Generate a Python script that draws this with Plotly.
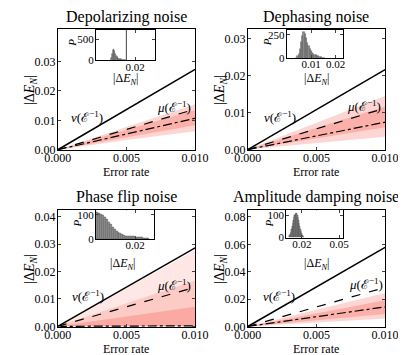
import plotly.graph_objects as go

W, H = 406, 355
FONT = 'Liberation Serif, Times New Roman, serif'
INK = 'black'
HIST_FILL = '#8c8c8c'
HIST_EDGE = '#5a5a5a'

# ---------------- data ----------------
titles = ['Depolarizing noise', 'Dephasing noise', 'Phase flip noise', 'Amplitude damping noise']

error_rate = [0.0, 0.01]
nu_line = [[0.0, 0.0273], [0.0, 0.0216], [0.0, 0.0287], [0.0, 0.0577]]
mu_line = [[0.0, 0.0138], [0.0, 0.0112], [0.0, 0.0143], [0.0, 0.0285]]
dd_line = [[0.0, 0.0107], [0.0, 0.0074], [0.0, 0.0002], [0.0, 0.0143]]

# scatter cloud envelopes (|dE_N| vs error rate)
cloud_x = [0.0, 0.0025, 0.005, 0.0075, 0.01]
depol_lo = [0.0, 0.0016, 0.0033, 0.0049, 0.0063]
depol_hi = [0.0, 0.0039, 0.0077, 0.0116, 0.0155]
depol_core_lo = [0.0, 0.0021, 0.0042, 0.0063, 0.0083]
depol_core_hi = [0.0, 0.0034, 0.0068, 0.0101, 0.0135]

deph_lo = [0.0, 0.0009, 0.0018, 0.0027, 0.0035]
deph_hi = [0.0, 0.0036, 0.0072, 0.0108, 0.0145]
deph_core_lo = [0.0, 0.0015, 0.0030, 0.0045, 0.0060]
deph_core_hi = [0.0, 0.0029, 0.0058, 0.0087, 0.0116]

flip_lo = [0.0, 0.0, 0.0, 0.0, 0.0]
flip_hi = [0.0, 0.0069, 0.0139, 0.0208, 0.0278]
flip_mid_hi = [0.0, 0.0042, 0.0084, 0.0126, 0.0168]
flip_core_hi = [0.0, 0.0018, 0.0036, 0.0054, 0.0072]

amp_lo = [0.0, 0.0014, 0.0029, 0.0043, 0.0058]
amp_hi = [0.0, 0.0061, 0.0122, 0.0183, 0.0244]
amp_core_lo = [0.0, 0.0023, 0.0046, 0.0069, 0.0092]
amp_core_hi = [0.0, 0.0048, 0.0096, 0.0144, 0.0192]

# inset histograms (bin centres, counts)
h_depol_x = [0.0076, 0.0080, 0.0084, 0.0088, 0.0092, 0.0096, 0.0100, 0.0104, 0.0108, 0.0112,
             0.0116, 0.0120, 0.0124, 0.0128, 0.0132, 0.0136, 0.0140, 0.0144, 0.0148, 0.0152]
h_depol_y = [10, 60, 150, 240, 270, 220, 160, 110, 80, 60, 45, 38, 32, 26, 20, 15, 11, 8, 5, 3]
h_depol_mark = 0.0155

h_deph_x = [0.0040, 0.0045, 0.0050, 0.0055, 0.0060, 0.0065, 0.0070, 0.0075, 0.0080, 0.0085,
            0.0090, 0.0095, 0.0100, 0.0105, 0.0110, 0.0115, 0.0120, 0.0125, 0.0130, 0.0135,
            0.0140, 0.0145, 0.0150, 0.0155]
h_deph_y = [5, 20, 50, 100, 170, 240, 278, 262, 215, 165, 125, 95, 72, 55, 45, 40, 35, 28, 22, 15,
            10, 6, 3, 1]

h_flip_x = [0.0005, 0.0015, 0.0025, 0.0035, 0.0045, 0.0055, 0.0065, 0.0075, 0.0085, 0.0095,
            0.0105, 0.0115, 0.0125, 0.0135, 0.0145, 0.0155, 0.0165, 0.0175, 0.0185, 0.0195,
            0.0205, 0.0215, 0.0225, 0.0235, 0.0245, 0.0255, 0.0265]
h_flip_y = [110, 108, 104, 98, 90, 80, 70, 60, 50, 42, 34, 27, 22, 18, 15, 13, 12, 11, 10, 10,
            9, 8, 7, 6, 5, 3, 2]

h_amp_x = [0.0100, 0.0105, 0.0110, 0.0115, 0.0120, 0.0125, 0.0130, 0.0135, 0.0140, 0.0145,
           0.0150, 0.0155, 0.0160, 0.0165, 0.0170, 0.0175, 0.0180, 0.0185, 0.0190, 0.0195,
           0.0200, 0.0205, 0.0210, 0.0215, 0.0220]
h_amp_y = [3, 8, 15, 25, 37, 50, 63, 76, 88, 98, 105, 108, 106, 100, 90, 78, 64, 50, 37, 26,
           17, 10, 6, 3, 1]

main_yrange = [[-0.0002, 0.0411], [-0.0002, 0.0326], [-0.0004, 0.0427], [-0.0007, 0.0854]]
main_yticks = [[0, 0.01, 0.02, 0.03], [0, 0.01, 0.02, 0.03],
               [0, 0.01, 0.02, 0.03, 0.04], [0, 0.02, 0.04, 0.06, 0.08]]

inset_xrange = [[0.0, 0.030], [0.0, 0.023], [0.0, 0.0295], [0.0075, 0.053]]
inset_xticks = [[0.02], [0.01, 0.02], [0.02], [0.02, 0.05]]
inset_yrange = [[0, 730], [0, 300], [0, 119], [0, 121]]
inset_yticks = [[0, 500], [0, 250], [0, 100], [0, 100]]

# ---------------- layout geometry (pixels) ----------------
main_box = [(39.3, 186, 19.3, 144), (242.3, 389, 19.3, 144),
            (39.3, 186, 204.7, 325.7), (242.3, 389, 204.7, 325.7)]
inset_box = [(80, 143, 20.5, 51.7), (284, 344, 20.5, 49.5),
             (80, 141.7, 205.5, 235), (283.3, 344, 205.5, 233.5)]


def px(x):
    return x / W


def py(y):
    return 1 - y / H


def salmon(a):
    return f'rgba(248,120,108,{a})'


fig = go.Figure()
annotations = []


def band(n, lo, hi, alpha):
    xs = cloud_x + cloud_x[::-1]
    ys = hi + lo[::-1]
    fig.add_trace(go.Scatter(x=xs, y=ys, fill='toself', fillcolor=salmon(alpha),
                             line=dict(width=0), mode='lines', hoverinfo='skip',
                             xaxis=f'x{n}', yaxis=f'y{n}', showlegend=False))


clouds = [
    [(depol_lo, depol_hi, 0.3), (depol_core_lo, depol_core_hi, 0.4)],
    [(deph_lo, deph_hi, 0.3), (deph_core_lo, deph_core_hi, 0.4)],
    [(flip_lo, flip_hi, 0.18), (flip_lo, flip_mid_hi, 0.25), (flip_lo, flip_core_hi, 0.4)],
    [(amp_lo, amp_hi, 0.3), (amp_core_lo, amp_core_hi, 0.4)],
]

hists = [(h_depol_x, h_depol_y, 0.0004), (h_deph_x, h_deph_y, 0.0005),
         (h_flip_x, h_flip_y, 0.001), (h_amp_x, h_amp_y, 0.0005)]

for i in range(4):
    n = i + 1
    for lo, hi, a in clouds[i]:
        band(n, lo, hi, a)
    for ys, dash, wd in [(dd_line[i], 'dashdot', 1.2), (mu_line[i], 'dash', 1.2), (nu_line[i], 'solid', 1.5)]:
        fig.add_trace(go.Scatter(x=error_rate, y=ys, mode='lines',
                                 line=dict(color=INK, width=wd, dash=dash),
                                 xaxis=f'x{n}', yaxis=f'y{n}', showlegend=False))

    x0, x1, y0, y1 = main_box[i]
    ax = dict(domain=[px(x0), px(x1)], range=[0, 0.01], tickvals=[0, 0.005, 0.01],
              tickformat='.3f', ticks='inside', ticklen=3, showline=True, linecolor=INK,
              linewidth=1, mirror='ticks', showgrid=False, zeroline=False,
              ticklabelstandoff=-4,
              tickfont=dict(family=FONT, size=12, color=INK), anchor=f'y{n}')
    ay = dict(domain=[py(y1), py(y0)], range=main_yrange[i], tickvals=main_yticks[i],
              tickformat='.2f', ticks='inside', ticklen=3, showline=True, linecolor=INK,
              linewidth=1, mirror='ticks', showgrid=False, zeroline=False,
              ticklabelstandoff=-1,
              tickfont=dict(family=FONT, size=12, color=INK), anchor=f'x{n}')
    fig.update_layout(**{f'xaxis{n}' if n > 1 else 'xaxis': ax,
                         f'yaxis{n}' if n > 1 else 'yaxis': ay})

    # inset histogram
    m = i + 5
    hx, hy, bw = hists[i]
    fig.add_trace(go.Bar(x=hx, y=hy, width=bw, marker=dict(color=HIST_FILL,
                         line=dict(color=HIST_EDGE, width=0.5)),
                         xaxis=f'x{m}', yaxis=f'y{m}', showlegend=False))
    if i == 0:
        fig.add_trace(go.Scatter(x=[h_depol_mark, h_depol_mark], y=inset_yrange[0], mode='lines',
                                 line=dict(color='#444444', width=1),
                                 xaxis='x5', yaxis='y5', showlegend=False))
    ix0, ix1, iy0, iy1 = inset_box[i]
    fig.update_layout(**{
        f'xaxis{m}': dict(domain=[px(ix0), px(ix1)], range=inset_xrange[i],
                          tickvals=inset_xticks[i], tickformat='.2f', ticks='inside', ticklen=3,
                          showline=True, linecolor=INK, linewidth=1, mirror='ticks',
                          showgrid=False, zeroline=False, anchor=f'y{m}',
                          ticklabelstandoff=-4,
                          tickfont=dict(family=FONT, size=11, color=INK)),
        f'yaxis{m}': dict(domain=[py(iy1), py(iy0)], range=inset_yrange[i],
                          tickvals=inset_yticks[i], ticks='inside', ticklen=3,
                          showline=True, linecolor=INK, linewidth=1, mirror='ticks',
                          showgrid=False, zeroline=False, anchor=f'x{m}',
                          ticklabelstandoff=-1,
                          tickfont=dict(family=FONT, size=11, color=INK)),
    })


def note(text, x, y, size, angle=0):
    annotations.append(dict(text=text, x=px(x), y=py(y), xref='paper', yref='paper',
                            showarrow=False, xanchor='center', yanchor='middle', textangle=angle,
                            font=dict(family=FONT, size=size, color=INK)))


dE = '|Δ<i>E</i><sub><i>N</i></sub>|'
nu_txt = '<i>ν</i>(ℰ<sup>−1</sup>)'
mu_txt = '<i>μ</i>(ℰ<sup>−1</sup>)'

title_pos = [(112.5, 7), (315.5, 7), (112.5, 192), (315.5, 192)]
xlab_y = [166, 166, 348, 348]
ylab_x = [10, 213, 10, 213]
nu_pos = [(71, 110), (277, 110), (71.5, 293), (276, 293)]
mu_pos = [(163.5, 100), (367, 98.3), (164, 282), (369, 281.3)]
p_pos = [(55, 33), (263, 33), (60, 219), (265, 219)]
inset_lab_pos = [(112, 71), (316, 71), (108, 261), (316, 261)]

for i in range(4):
    x0, x1, y0, y1 = main_box[i]
    note(titles[i], *title_pos[i], 16)
    note('Error rate', (x0 + x1) / 2, xlab_y[i], 12)
    note(dE, ylab_x[i], (y0 + y1) / 2, 14, angle=-90)
    note(nu_txt, *nu_pos[i], 13)
    note(mu_txt, *mu_pos[i], 13)
    note('<i>P</i>', *p_pos[i], 11, angle=-90)
    note(dE, *inset_lab_pos[i], 12)

fig.update_layout(
    width=W, height=H,
    margin=dict(l=0, r=0, t=0, b=0),
    paper_bgcolor='white', plot_bgcolor='white',
    bargap=0, showlegend=False,
    annotations=annotations,
)

fig.write_html('out.html')
